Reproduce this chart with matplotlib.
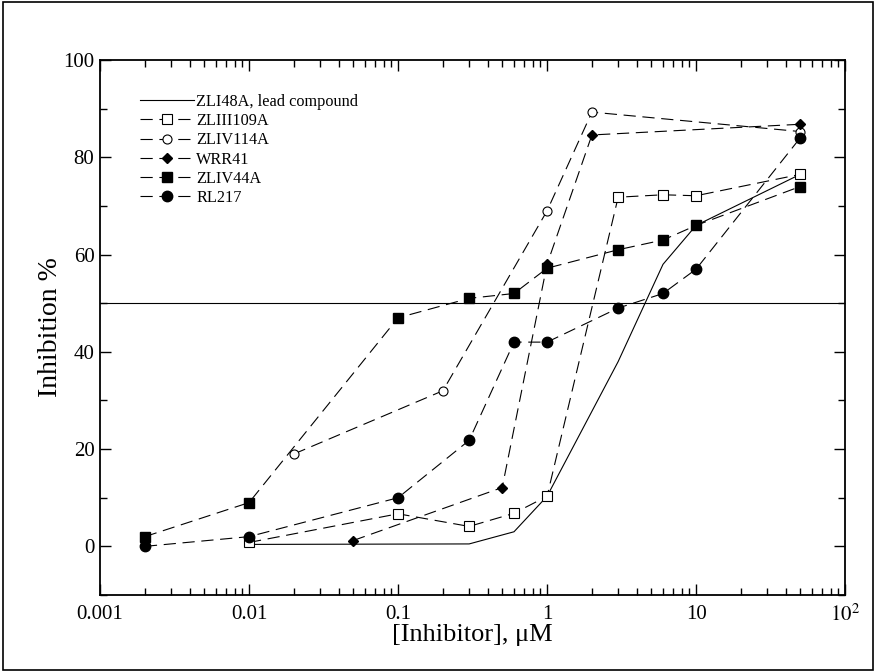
import matplotlib.pyplot as plt
import matplotlib.ticker as mticker
from matplotlib.patches import Rectangle

plt.rcParams['font.family'] = ['Liberation Serif', 'DejaVu Serif']
plt.rcParams['mathtext.fontset'] = 'stix'

# data
zli48a_x = [0.01, 0.3, 0.6, 1, 3, 6, 10, 50]
zli48a_y = [0.4, 0.5, 3, 10.3, 38, 58, 66, 76.5]

zliii109a_x = [0.01, 0.1, 0.3, 0.6, 1, 3, 6, 10, 50]
zliii109a_y = [0.8, 6.7, 4.1, 6.8, 10.3, 71.8, 72.3, 72.1, 76.5]

zliv114a_x = [0.02, 0.2, 1, 2, 50]
zliv114a_y = [19, 32, 69, 89.3, 85.3]

wrr41_x = [0.05, 0.5, 1, 2, 50]
wrr41_y = [1.2, 12.1, 58, 84.6, 86.8]

zliv44a_x = [0.002, 0.01, 0.1, 0.3, 0.6, 1, 3, 6, 10, 50]
zliv44a_y = [2, 9, 47, 51, 52, 57.2, 61, 63, 66, 74]

rl217_x = [0.002, 0.01, 0.1, 0.3, 0.6, 1, 3, 6, 10, 50]
rl217_y = [0, 2, 10, 21.8, 42, 42, 49, 52, 57, 84]

xtick_vals = [0.001, 0.01, 0.1, 1, 10, 100]
xtick_labels = ['0.001', '0.01', '0.1', '1', '10', '$10^2$']

fig = plt.figure(figsize=(8.76, 6.72), dpi=100)
ax = fig.add_axes([0.1142, 0.1146, 0.8505, 0.796])

dash = (0, (11, 6))
lw = 0.8

ax.plot(zli48a_x, zli48a_y, color='black', lw=lw, label='ZLI48A, lead compound')
ax.plot(zliii109a_x, zliii109a_y, color='black', lw=lw, ls=dash, marker='s',
        mfc='white', mec='black', ms=6.5, mew=0.8, label='ZLIII109A')
ax.plot(zliv114a_x, zliv114a_y, color='black', lw=lw, ls=dash, marker='o',
        mfc='white', mec='black', ms=6.5, mew=0.8, label='ZLIV114A')
ax.plot(wrr41_x, wrr41_y, color='black', lw=lw, ls=dash, marker='D',
        mfc='black', mec='black', ms=5, label='WRR41')
ax.plot(zliv44a_x, zliv44a_y, color='black', lw=lw, ls=dash, marker='s',
        mfc='black', mec='black', ms=7, label='ZLIV44A')
ax.plot(rl217_x, rl217_y, color='black', lw=lw, ls=dash, marker='o',
        mfc='black', mec='black', ms=7.5, label='RL217')

ax.axhline(50, color='black', lw=0.8)

ax.set_xscale('log')
ax.set_xlim(0.001, 100)
ax.set_ylim(-10, 100)
ax.set_xticks(xtick_vals)
ax.set_xticklabels(xtick_labels)
ax.xaxis.set_minor_locator(mticker.LogLocator(base=10, subs=range(2, 10), numticks=20))
ax.xaxis.set_minor_formatter(mticker.NullFormatter())
ax.set_yticks([0, 20, 40, 60, 80, 100])
ax.yaxis.set_minor_locator(mticker.MultipleLocator(10))

ax.tick_params(which='both', direction='in', top=True, right=True, labelsize=15, width=1)
ax.tick_params(which='major', length=8)
ax.tick_params(which='minor', length=5)
ax.tick_params(axis='x', which='major', pad=7)
ax.tick_params(axis='y', which='major', pad=4)
for s in ax.spines.values():
    s.set_linewidth(1.3)

ax.set_xlabel('[Inhibitor], \u03bcM', fontsize=19, va='center')
ax.xaxis.set_label_coords(0.5, -0.075)
ax.set_ylabel('Inhibition %', fontsize=20, va='center')
ax.yaxis.set_label_coords(-0.066, 0.5)

ax.legend(loc='upper left', bbox_to_anchor=(0.054, 0.937), frameon=False, fontsize=11.7,
          handlelength=3.3, handletextpad=0.15, labelspacing=0.2, borderaxespad=0,
          borderpad=0)

fig.patches.append(Rectangle((0.003, 0.003), 0.994, 0.994, transform=fig.transFigure,
                             fill=False, edgecolor='black', lw=1.2))

fig.savefig('out.png', dpi=100)
